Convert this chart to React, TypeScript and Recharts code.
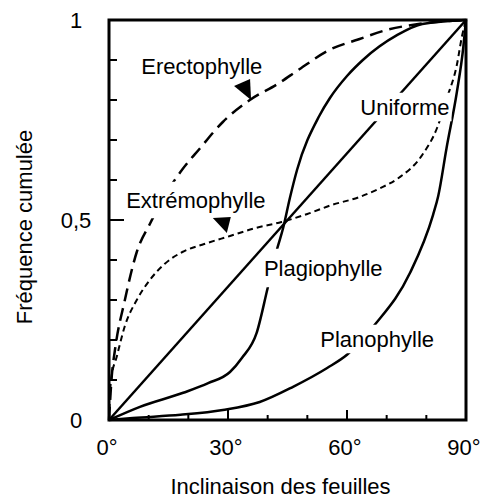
import { LineChart, Line, XAxis, YAxis, ReferenceArea, ReferenceDot } from 'recharts';

const FONT = '"Liberation Sans", Arial, Helvetica, sans-serif';
const FS = 22;

// ── Axis ticks ────────────────────────────────────────────────────────────────
const xTicks = [0, 10, 20, 30, 40, 50, 60, 70, 80, 90];
const xTickLabels: Record<string, string> = { '0': '0°', '30': '30°', '60': '60°', '90': '90°' };
const yTicks = [0, 0.1, 0.2, 0.3, 0.4, 0.5, 0.6, 0.7, 0.8, 0.9, 1];
const yTickLabels: Record<string, string> = { '0': '0', '0.5': '0,5', '1': '1' };

// ── Curves: [inclinaison (°), fréquence cumulée] ─────────────────────────────
const uniforme = [[0, 0], [90, 1]];

const erectophylle = [
  [0, 0], [0.7, 0.11], [1.5, 0.175], [4, 0.3], [7, 0.42], [10.3, 0.49], [14, 0.56],
  [18, 0.62], [23, 0.68], [28.7, 0.745], [35.5, 0.8], [42.5, 0.84], [48, 0.877],
  [55.5, 0.925], [63, 0.952], [70, 0.975], [78, 0.99], [90, 1],
];

const extremophylle = [
  [0, 0], [0.5, 0.1], [2, 0.16], [4, 0.235], [7, 0.3], [10.3, 0.35], [14, 0.39],
  [18.5, 0.42], [24, 0.44], [30.5, 0.46], [37, 0.48], [43.5, 0.495], [50, 0.515],
  [56, 0.537], [63, 0.557], [68, 0.578], [73, 0.605], [79, 0.663], [82.7, 0.73],
  [85.2, 0.805], [87.7, 0.888], [89, 0.96], [90, 1],
];

const plagiophylle = [
  [0, 0], [7.8, 0.033], [18.7, 0.068], [25, 0.092], [30.5, 0.12], [33.5, 0.155],
  [37.2, 0.217], [40, 0.33], [42.3, 0.425], [43.9, 0.48], [45.6, 0.555], [47.4, 0.625],
  [53, 0.76], [55.7, 0.805], [60, 0.86], [64, 0.9], [72.6, 0.962], [79, 0.99], [90, 1],
];

const planophylle = [
  [0, 0], [6, 0.005], [18, 0.013], [28.7, 0.025], [38, 0.045], [46.4, 0.083],
  [55, 0.13], [60, 0.163], [67, 0.238], [75.9, 0.368], [81.7, 0.513], [83, 0.56],
  [85.1, 0.68], [87.7, 0.82], [89.3, 0.93], [90, 1],
];

// ── Annotations ───────────────────────────────────────────────────────────────
const curveLabels = [
  { text: 'Erectophylle', a: 23.4, f: 0.885, padX: 2, padY: 4 },
  { text: 'Extrémophylle', a: 21.9, f: 0.55, padX: 2, padY: 10 },
  { text: 'Uniforme', a: 74.6, f: 0.7825, padX: 2, padY: 6 },
  { text: 'Plagiophylle', a: 54, f: 0.38, padX: 0, padY: 11 },
  { text: 'Planophylle', a: 67.6, f: 0.2025, padX: 2, padY: 6 },
];
const arrows = [
  { a: 34.3, f: 0.83, pts: [[-11, -2], [5, -9], [6, 12]] },
  { a: 28.7, f: 0.49, pts: [[-10, -6], [8, -7], [4, 9]] },
];

const toPoints = (arr: number[][]) => arr.map(([a, f]) => ({ a, f }));

let ctx: CanvasRenderingContext2D | null = null;
function textWidth(s: string) {
  if (!ctx) ctx = document.createElement('canvas').getContext('2d');
  if (!ctx) return s.length * FS * 0.55;
  ctx.font = `${FS}px ${FONT}`;
  return ctx.measureText(s).width;
}

const XTick = ({ x, y, payload }: any) => {
  const v = payload.value;
  const label = xTickLabels[String(v)];
  const len = v === 30 || v === 60 ? 10 : 5;
  return (
    <g>
      <line x1={x} x2={x} y1={y} y2={y - len} stroke="#000" strokeWidth={2} />
      {label && (
        <text x={x - 2} y={y + 35} textAnchor="middle" fontFamily={FONT} fontSize={FS} fill="#000">
          {label}
        </text>
      )}
    </g>
  );
};

const YTick = ({ x, y, payload }: any) => {
  const v = payload.value;
  const label = yTickLabels[String(v)];
  const len = v === 0.5 ? 15 : 8;
  return (
    <g>
      <line x1={x} x2={x + len} y1={y} y2={y} stroke="#000" strokeWidth={2} />
      {label && (
        <text x={x - 33} y={y + 8} textAnchor="middle" fontFamily={FONT} fontSize={FS} fill="#000">
          {label}
        </text>
      )}
    </g>
  );
};

export default function App() {
  return (
    <div style={{ position: 'absolute', left: 0, top: 0, background: '#fff' }}>
      <LineChart width={486} height={498} margin={{ top: 20, right: 20, bottom: 0, left: 0 }}>
        <XAxis
          dataKey="a"
          type="number"
          domain={[0, 90]}
          ticks={xTicks}
          interval={0}
          axisLine={false}
          tickLine={false}
          tickSize={0}
          tickMargin={0}
          height={78}
          tick={<XTick />}
          label={{
            content: ({ viewBox }: any) => (
              <text
                x={viewBox.x + viewBox.width / 2 - 7}
                y={viewBox.y + 74}
                textAnchor="middle"
                fontFamily={FONT}
                fontSize={FS}
                fill="#000"
              >
                Inclinaison des feuilles
              </text>
            ),
          }}
        />
        <YAxis
          type="number"
          domain={[0, 1]}
          ticks={yTicks}
          interval={0}
          axisLine={false}
          tickLine={false}
          tickSize={0}
          tickMargin={0}
          width={109}
          tick={<YTick />}
          label={{
            content: ({ viewBox }: any) => {
              const cx = viewBox.x + 24;
              const cy = viewBox.y + viewBox.height / 2 + 7;
              return (
                <text
                  x={cx}
                  y={cy}
                  transform={`rotate(-90, ${cx}, ${cy})`}
                  textAnchor="middle"
                  dominantBaseline="central"
                  fontFamily={FONT}
                  fontSize={FS}
                  fill="#000"
                >
                  Fréquence cumulée
                </text>
              );
            },
          }}
        />

        <Line data={toPoints(uniforme)} dataKey="f" type="linear" stroke="#000" strokeWidth={2.5} dot={false} isAnimationActive={false} />
        <Line data={toPoints(erectophylle)} dataKey="f" type="monotone" stroke="#000" strokeWidth={2.5} strokeDasharray="13 7" dot={false} isAnimationActive={false} />
        <Line data={toPoints(extremophylle)} dataKey="f" type="monotone" stroke="#000" strokeWidth={2} strokeDasharray="6 4" dot={false} isAnimationActive={false} />
        <Line data={toPoints(plagiophylle)} dataKey="f" type="monotone" stroke="#000" strokeWidth={2.5} dot={false} isAnimationActive={false} />
        <Line data={toPoints(planophylle)} dataKey="f" type="monotone" stroke="#000" strokeWidth={2.5} dot={false} isAnimationActive={false} />

        <ReferenceArea x1={0} x2={90} y1={0} y2={1} fill="none" stroke="#000" strokeWidth={3} ifOverflow="visible" />

        {curveLabels.map((l) => (
          <ReferenceDot
            key={l.text}
            x={l.a}
            y={l.f}
            r={1}
            ifOverflow="visible"
            zIndex={800}
            shape={({ cx, cy }: any) => {
              const w = textWidth(l.text);
              const h = FS * 0.75;
              return (
                <g>
                  <rect x={cx - w / 2 - l.padX} y={cy - h / 2 - l.padY} width={w + 2 * l.padX} height={h + 2 * l.padY} fill="#fff" />
                  <text x={cx} y={cy + FS * 0.36} textAnchor="middle" fontFamily={FONT} fontSize={FS} fill="#000">
                    {l.text}
                  </text>
                </g>
              );
            }}
          />
        ))}
        {arrows.map((ar, i) => (
          <ReferenceDot
            key={i}
            x={ar.a}
            y={ar.f}
            r={1}
            ifOverflow="visible"
            zIndex={800}
            shape={({ cx, cy }: any) => (
              <polygon points={ar.pts.map(([dx, dy]) => `${cx + dx},${cy + dy}`).join(' ')} fill="#000" />
            )}
          />
        ))}
      </LineChart>
    </div>
  );
}
